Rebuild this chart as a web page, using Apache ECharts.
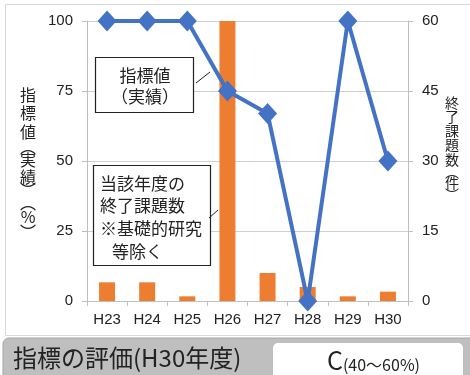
<!DOCTYPE html>
<html><head><meta charset="utf-8">
<script src="https://cdn.jsdelivr.net/npm/echarts@6/dist/echarts.min.js"></script>
<style>html,body{margin:0;padding:0;background:#fff}#c{width:470px;height:375px}</style>
</head><body><div id="c"></div>
<script>
const categories = ['H23','H24','H25','H26','H27','H28','H29','H30'];
const indicatorValues = [100,100,100,75,67,0,100,50];
const completedCounts = [4,4,1,60,6,3,1,2];
const leftAxis = {min:0, max:100, interval:25};
const rightAxis = {min:0, max:60, interval:15};
const leftName = ['指','標','値','︵','実','績','︶','︵','%','︶'];
const rightName = ['終','了','課','題','数','︵','件','︶'];

const NUM = "'Liberation Sans', Arial, sans-serif";
const JP = "'Noto Sans CJK JP', sans-serif";
const chart = echarts.init(document.getElementById('c'), null, {renderer:'canvas'});

const leftY = [95,113.3,131.7,146.7,160,176.7,190,203.3,216.7,231.7];
const rightY = [103,117,131,145,160,172,183,195];

const graphics = [
  {type:'rect', shape:{x:5.5, y:4.5, width:480, height:331}, style:{fill:'none', stroke:'#d9d9d9', lineWidth:1}, z:-10}
];
leftName.forEach((ch,i)=>graphics.push({type:'text', x:28, y:leftY[i], style:{text:ch, font:"16px "+JP, fill:'#222', align:'center', verticalAlign:'middle'}}));
rightName.forEach((ch,i)=>graphics.push({type:'text', x:452, y:rightY[i], style:{text:ch, font:"14px "+JP, fill:'#222', align:'center', verticalAlign:'middle'}}));
graphics.push(
  {type:'rect', shape:{x:95.5, y:57.5, width:98, height:55}, style:{fill:'#fff', stroke:'#222', lineWidth:1.2}, z:10},
  {type:'text', x:145, y:76, z:11, style:{text:'指標値', font:"17px "+JP, fill:'#222', align:'center', verticalAlign:'middle'}},
  {type:'text', x:145, y:97, z:11, style:{text:'（実績）', font:"17px "+JP, fill:'#222', align:'center', verticalAlign:'middle'}},
  {type:'line', shape:{x1:196, y1:83, x2:210, y2:72}, style:{stroke:'#222', lineWidth:1}, z:10},
  {type:'rect', shape:{x:93.5, y:165.5, width:117, height:100}, style:{fill:'#fff', stroke:'#222', lineWidth:1.2}, z:10},
  {type:'text', x:100, y:184, z:11, style:{text:'当該年度の', font:"17px "+JP, fill:'#222', align:'left', verticalAlign:'middle'}},
  {type:'text', x:100, y:206, z:11, style:{text:'終了課題数', font:"17px "+JP, fill:'#222', align:'left', verticalAlign:'middle'}},
  {type:'text', x:100, y:229, z:11, style:{text:'※基礎的研究', font:"17px "+JP, fill:'#222', align:'left', verticalAlign:'middle'}},
  {type:'text', x:112, y:252, z:11, style:{text:'等除く', font:"17px "+JP, fill:'#222', align:'left', verticalAlign:'middle'}},
  {type:'line', shape:{x1:209, y1:218, x2:218, y2:210}, style:{stroke:'#222', lineWidth:1}, z:10},
  {type:'rect', shape:{x:3, y:338, width:475, height:45, r:6}, style:{fill:'#bfbfbf', stroke:'#a6a6a6', lineWidth:1}, z:20},
  {type:'text', x:13, y:358, z:21, style:{text:'指標の評価(H30年度)', font:"24px "+JP, fill:'#222', align:'left', verticalAlign:'middle'}},
  {type:'rect', shape:{x:273, y:343, width:190, height:40, r:5}, style:{fill:'#fff'}, z:21},
  {type:'text', x:327, y:360, z:22, style:{
    text:'{a|C}{b|(40～60%)}',
    rich:{a:{fontSize:25, fontFamily:JP, fill:'#222', verticalAlign:'bottom'},
          b:{fontSize:16, fontFamily:JP, fill:'#222', verticalAlign:'bottom'}},
    align:'left', verticalAlign:'middle'}}
);

chart.setOption({
  animation:false,
  backgroundColor:'#fff',
  grid:{left:87, right:62, top:21, bottom:74},
  xAxis:{
    type:'category', data:categories,
    axisLine:{lineStyle:{color:'#bfbfbf', width:1}},
    axisTick:{show:true, length:5, lineStyle:{color:'#bfbfbf'}},
    axisLabel:{color:'#222', fontSize:15, fontFamily:NUM, margin:11}
  },
  yAxis:[
    {type:'value', min:leftAxis.min, max:leftAxis.max, interval:leftAxis.interval, position:'left',
     axisLine:{show:true, lineStyle:{color:'#bfbfbf'}},
     axisTick:{show:true, length:5, lineStyle:{color:'#bfbfbf'}},
     splitLine:{lineStyle:{color:'#d0d0d0', width:1}},
     axisLabel:{color:'#222', fontSize:15, fontFamily:NUM, margin:14}},
    {type:'value', min:rightAxis.min, max:rightAxis.max, interval:rightAxis.interval, position:'right',
     axisLine:{show:true, lineStyle:{color:'#bfbfbf'}},
     axisTick:{show:true, length:5, lineStyle:{color:'#bfbfbf'}},
     splitLine:{show:false},
     axisLabel:{color:'#222', fontSize:15, fontFamily:NUM, margin:14}}
  ],
  series:[
    {type:'bar', yAxisIndex:1, data:completedCounts, barWidth:16,
     itemStyle:{color:'#ED7D31'}, z:2},
    {type:'line', yAxisIndex:0, data:indicatorValues, z:5,
     lineStyle:{color:'#4472C4', width:4},
     itemStyle:{color:'#4472C4'},
     symbol:'diamond', symbolSize:[19,21], showSymbol:true}
  ],
  graphics:undefined,
  graphic:graphics
});
</script>
</body></html>
